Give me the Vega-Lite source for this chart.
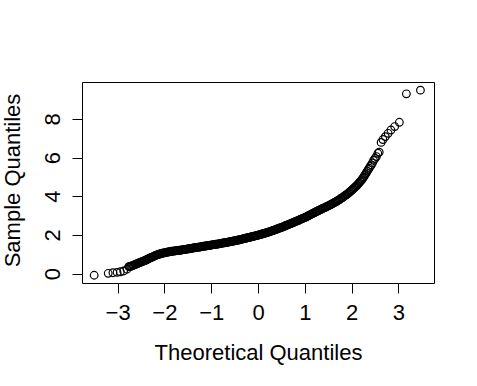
{
"$schema": "https://vega.github.io/schema/vega-lite/v6.json",
"width": 352, "height": 201,
"autosize": {"type": "none"},
"padding": {"left": 82, "top": 82, "right": 43, "bottom": 103},
"background": "white",
"config": {"view": {"stroke": "black", "strokeWidth": 1}, "font": "Liberation Sans"},
"data": {"values": [
{"theoretical": -3.50, "sample": -0.08},{"theoretical": -3.20, "sample": 0.02},{"theoretical": -3.10, "sample": 0.05},{"theoretical": -3.01, "sample": 0.07},{"theoretical": -2.94, "sample": 0.10},{"theoretical": -2.87, "sample": 0.14},{"theoretical": -2.80, "sample": 0.23},{"theoretical": -2.76, "sample": 0.36},{"theoretical": -2.74, "sample": 0.37},
{"theoretical": -2.72, "sample": 0.38},{"theoretical": -2.70, "sample": 0.40},{"theoretical": -2.68, "sample": 0.42},{"theoretical": -2.66, "sample": 0.44},{"theoretical": -2.64, "sample": 0.46},{"theoretical": -2.62, "sample": 0.48},{"theoretical": -2.60, "sample": 0.50},
{"theoretical": -2.58, "sample": 0.52},{"theoretical": -2.56, "sample": 0.54},{"theoretical": -2.54, "sample": 0.56},{"theoretical": -2.52, "sample": 0.58},{"theoretical": -2.50, "sample": 0.60},
{"theoretical": -2.48, "sample": 0.62},{"theoretical": -2.46, "sample": 0.64},{"theoretical": -2.44, "sample": 0.66},{"theoretical": -2.42, "sample": 0.68},{"theoretical": -2.40, "sample": 0.70},
{"theoretical": -2.38, "sample": 0.72},{"theoretical": -2.36, "sample": 0.75},{"theoretical": -2.34, "sample": 0.77},{"theoretical": -2.32, "sample": 0.80},{"theoretical": -2.30, "sample": 0.82},
{"theoretical": -2.28, "sample": 0.84},{"theoretical": -2.26, "sample": 0.86},{"theoretical": -2.24, "sample": 0.88},{"theoretical": -2.22, "sample": 0.91},{"theoretical": -2.20, "sample": 0.93},
{"theoretical": -2.18, "sample": 0.95},{"theoretical": -2.16, "sample": 0.97},{"theoretical": -2.14, "sample": 0.99},{"theoretical": -2.12, "sample": 1.00},{"theoretical": -2.10, "sample": 1.02},
{"theoretical": -2.08, "sample": 1.03},{"theoretical": -2.06, "sample": 1.05},{"theoretical": -2.04, "sample": 1.06},{"theoretical": -2.02, "sample": 1.07},{"theoretical": -2.00, "sample": 1.08},
{"theoretical": -1.98, "sample": 1.09},{"theoretical": -1.96, "sample": 1.10},{"theoretical": -1.94, "sample": 1.11},{"theoretical": -1.92, "sample": 1.12},{"theoretical": -1.90, "sample": 1.13},
{"theoretical": -1.88, "sample": 1.14},{"theoretical": -1.86, "sample": 1.15},{"theoretical": -1.84, "sample": 1.16},{"theoretical": -1.82, "sample": 1.16},{"theoretical": -1.80, "sample": 1.17},
{"theoretical": -1.78, "sample": 1.18},{"theoretical": -1.76, "sample": 1.18},{"theoretical": -1.74, "sample": 1.19},{"theoretical": -1.72, "sample": 1.20},{"theoretical": -1.70, "sample": 1.20},{"theoretical": -1.68, "sample": 1.21},{"theoretical": -1.66, "sample": 1.22},{"theoretical": -1.64, "sample": 1.22},{"theoretical": -1.62, "sample": 1.23},{"theoretical": -1.60, "sample": 1.24},
{"theoretical": -1.58, "sample": 1.25},{"theoretical": -1.56, "sample": 1.26},{"theoretical": -1.54, "sample": 1.26},{"theoretical": -1.52, "sample": 1.27},{"theoretical": -1.50, "sample": 1.28},{"theoretical": -1.48, "sample": 1.29},{"theoretical": -1.46, "sample": 1.29},{"theoretical": -1.44, "sample": 1.30},{"theoretical": -1.42, "sample": 1.31},{"theoretical": -1.40, "sample": 1.32},
{"theoretical": -1.38, "sample": 1.33},{"theoretical": -1.36, "sample": 1.34},{"theoretical": -1.34, "sample": 1.34},{"theoretical": -1.32, "sample": 1.35},{"theoretical": -1.30, "sample": 1.36},{"theoretical": -1.28, "sample": 1.37},{"theoretical": -1.26, "sample": 1.37},{"theoretical": -1.24, "sample": 1.38},{"theoretical": -1.22, "sample": 1.39},{"theoretical": -1.20, "sample": 1.40},
{"theoretical": -1.18, "sample": 1.41},{"theoretical": -1.16, "sample": 1.42},{"theoretical": -1.14, "sample": 1.42},{"theoretical": -1.12, "sample": 1.43},{"theoretical": -1.10, "sample": 1.44},{"theoretical": -1.08, "sample": 1.45},{"theoretical": -1.06, "sample": 1.45},{"theoretical": -1.04, "sample": 1.46},{"theoretical": -1.02, "sample": 1.47},{"theoretical": -1.00, "sample": 1.48},
{"theoretical": -0.98, "sample": 1.49},{"theoretical": -0.96, "sample": 1.50},{"theoretical": -0.94, "sample": 1.50},{"theoretical": -0.92, "sample": 1.51},{"theoretical": -0.90, "sample": 1.52},{"theoretical": -0.88, "sample": 1.53},{"theoretical": -0.86, "sample": 1.53},{"theoretical": -0.84, "sample": 1.54},{"theoretical": -0.82, "sample": 1.55},{"theoretical": -0.80, "sample": 1.56},
{"theoretical": -0.78, "sample": 1.57},{"theoretical": -0.76, "sample": 1.58},{"theoretical": -0.74, "sample": 1.59},{"theoretical": -0.72, "sample": 1.60},{"theoretical": -0.70, "sample": 1.60},{"theoretical": -0.68, "sample": 1.61},{"theoretical": -0.66, "sample": 1.62},{"theoretical": -0.64, "sample": 1.63},{"theoretical": -0.62, "sample": 1.64},{"theoretical": -0.60, "sample": 1.65},
{"theoretical": -0.58, "sample": 1.66},{"theoretical": -0.56, "sample": 1.67},{"theoretical": -0.54, "sample": 1.68},{"theoretical": -0.52, "sample": 1.69},{"theoretical": -0.50, "sample": 1.70},{"theoretical": -0.48, "sample": 1.71},{"theoretical": -0.46, "sample": 1.72},{"theoretical": -0.44, "sample": 1.73},{"theoretical": -0.42, "sample": 1.74},{"theoretical": -0.40, "sample": 1.75},
{"theoretical": -0.38, "sample": 1.76},{"theoretical": -0.36, "sample": 1.77},{"theoretical": -0.34, "sample": 1.79},{"theoretical": -0.32, "sample": 1.80},{"theoretical": -0.30, "sample": 1.81},{"theoretical": -0.28, "sample": 1.82},{"theoretical": -0.26, "sample": 1.83},{"theoretical": -0.24, "sample": 1.85},{"theoretical": -0.22, "sample": 1.86},{"theoretical": -0.20, "sample": 1.87},
{"theoretical": -0.18, "sample": 1.88},{"theoretical": -0.16, "sample": 1.89},{"theoretical": -0.14, "sample": 1.91},{"theoretical": -0.12, "sample": 1.92},{"theoretical": -0.10, "sample": 1.93},{"theoretical": -0.08, "sample": 1.94},{"theoretical": -0.06, "sample": 1.95},{"theoretical": -0.04, "sample": 1.97},{"theoretical": -0.02, "sample": 1.98},{"theoretical": 0.00, "sample": 1.99},
{"theoretical": 0.02, "sample": 2.00},{"theoretical": 0.04, "sample": 2.02},{"theoretical": 0.06, "sample": 2.03},{"theoretical": 0.08, "sample": 2.05},{"theoretical": 0.10, "sample": 2.06},{"theoretical": 0.12, "sample": 2.07},{"theoretical": 0.14, "sample": 2.09},{"theoretical": 0.16, "sample": 2.10},{"theoretical": 0.18, "sample": 2.12},{"theoretical": 0.20, "sample": 2.13},
{"theoretical": 0.22, "sample": 2.15},{"theoretical": 0.24, "sample": 2.16},{"theoretical": 0.26, "sample": 2.18},{"theoretical": 0.28, "sample": 2.20},{"theoretical": 0.30, "sample": 2.21},{"theoretical": 0.32, "sample": 2.23},{"theoretical": 0.34, "sample": 2.25},{"theoretical": 0.36, "sample": 2.26},{"theoretical": 0.38, "sample": 2.28},{"theoretical": 0.40, "sample": 2.30},
{"theoretical": 0.42, "sample": 2.32},{"theoretical": 0.44, "sample": 2.34},{"theoretical": 0.46, "sample": 2.36},{"theoretical": 0.48, "sample": 2.37},{"theoretical": 0.50, "sample": 2.39},{"theoretical": 0.52, "sample": 2.41},{"theoretical": 0.54, "sample": 2.43},{"theoretical": 0.56, "sample": 2.45},{"theoretical": 0.58, "sample": 2.47},{"theoretical": 0.60, "sample": 2.49},
{"theoretical": 0.62, "sample": 2.51},{"theoretical": 0.64, "sample": 2.53},{"theoretical": 0.66, "sample": 2.55},{"theoretical": 0.68, "sample": 2.57},{"theoretical": 0.70, "sample": 2.59},{"theoretical": 0.72, "sample": 2.61},{"theoretical": 0.74, "sample": 2.63},{"theoretical": 0.76, "sample": 2.65},{"theoretical": 0.78, "sample": 2.67},{"theoretical": 0.80, "sample": 2.69},
{"theoretical": 0.82, "sample": 2.71},{"theoretical": 0.84, "sample": 2.73},{"theoretical": 0.86, "sample": 2.75},{"theoretical": 0.88, "sample": 2.77},{"theoretical": 0.90, "sample": 2.80},{"theoretical": 0.92, "sample": 2.82},{"theoretical": 0.94, "sample": 2.84},{"theoretical": 0.96, "sample": 2.86},{"theoretical": 0.98, "sample": 2.88},{"theoretical": 1.00, "sample": 2.90},
{"theoretical": 1.02, "sample": 2.92},{"theoretical": 1.04, "sample": 2.95},{"theoretical": 1.06, "sample": 2.97},{"theoretical": 1.08, "sample": 3.00},{"theoretical": 1.10, "sample": 3.02},{"theoretical": 1.12, "sample": 3.05},{"theoretical": 1.14, "sample": 3.07},{"theoretical": 1.16, "sample": 3.10},{"theoretical": 1.18, "sample": 3.12},{"theoretical": 1.20, "sample": 3.15},
{"theoretical": 1.22, "sample": 3.17},{"theoretical": 1.24, "sample": 3.20},{"theoretical": 1.26, "sample": 3.22},{"theoretical": 1.28, "sample": 3.25},{"theoretical": 1.30, "sample": 3.27},
{"theoretical": 1.32, "sample": 3.29},{"theoretical": 1.34, "sample": 3.32},{"theoretical": 1.36, "sample": 3.34},{"theoretical": 1.38, "sample": 3.37},{"theoretical": 1.40, "sample": 3.39},
{"theoretical": 1.42, "sample": 3.41},{"theoretical": 1.44, "sample": 3.43},{"theoretical": 1.46, "sample": 3.46},{"theoretical": 1.48, "sample": 3.48},{"theoretical": 1.50, "sample": 3.50},
{"theoretical": 1.52, "sample": 3.53},{"theoretical": 1.54, "sample": 3.55},{"theoretical": 1.56, "sample": 3.58},{"theoretical": 1.58, "sample": 3.60},{"theoretical": 1.60, "sample": 3.63},
{"theoretical": 1.62, "sample": 3.66},{"theoretical": 1.64, "sample": 3.69},{"theoretical": 1.66, "sample": 3.71},{"theoretical": 1.68, "sample": 3.74},{"theoretical": 1.70, "sample": 3.77},
{"theoretical": 1.72, "sample": 3.80},{"theoretical": 1.74, "sample": 3.83},{"theoretical": 1.76, "sample": 3.87},{"theoretical": 1.78, "sample": 3.90},{"theoretical": 1.80, "sample": 3.93},
{"theoretical": 1.82, "sample": 3.96},{"theoretical": 1.84, "sample": 4.00},{"theoretical": 1.86, "sample": 4.03},{"theoretical": 1.88, "sample": 4.07},{"theoretical": 1.90, "sample": 4.10},
{"theoretical": 1.92, "sample": 4.14},{"theoretical": 1.94, "sample": 4.18},{"theoretical": 1.96, "sample": 4.22},{"theoretical": 1.98, "sample": 4.26},{"theoretical": 2.00, "sample": 4.30},
{"theoretical": 2.02, "sample": 4.35},{"theoretical": 2.04, "sample": 4.39},{"theoretical": 2.06, "sample": 4.44},{"theoretical": 2.08, "sample": 4.48},{"theoretical": 2.10, "sample": 4.53},
{"theoretical": 2.12, "sample": 4.58},{"theoretical": 2.14, "sample": 4.64},{"theoretical": 2.16, "sample": 4.69},{"theoretical": 2.18, "sample": 4.75},{"theoretical": 2.20, "sample": 4.80},
{"theoretical": 2.22, "sample": 4.86},{"theoretical": 2.24, "sample": 4.93},{"theoretical": 2.26, "sample": 5.00},{"theoretical": 2.28, "sample": 5.08},
{"theoretical": 2.298, "sample": 5.15},{"theoretical": 2.316, "sample": 5.22},{"theoretical": 2.335, "sample": 5.30},{"theoretical": 2.355, "sample": 5.38},{"theoretical": 2.375, "sample": 5.45},{"theoretical": 2.40, "sample": 5.55},{"theoretical": 2.42, "sample": 5.62},{"theoretical": 2.445, "sample": 5.72},{"theoretical": 2.47, "sample": 5.85},{"theoretical": 2.50, "sample": 5.95},{"theoretical": 2.53, "sample": 6.05},{"theoretical": 2.56, "sample": 6.22},{"theoretical": 2.59, "sample": 6.28},{"theoretical": 2.63, "sample": 6.78},{"theoretical": 2.67, "sample": 6.93},{"theoretical": 2.72, "sample": 7.08},{"theoretical": 2.78, "sample": 7.25},{"theoretical": 2.84, "sample": 7.42},{"theoretical": 2.92, "sample": 7.60},{"theoretical": 3.02, "sample": 7.82},{"theoretical": 3.17, "sample": 9.29},{"theoretical": 3.47, "sample": 9.48}
]},
"mark": {"type": "point", "shape": "circle", "filled": false, "stroke": "black", "strokeWidth": 1.2, "size": 58, "opacity": 1},
"encoding": {
"x": {"field": "theoretical", "type": "quantitative",
 "scale": {"domain": [-3.76, 3.76], "nice": false, "zero": false},
 "axis": {"values": [-3,-2,-1,0,1,2,3], "domain": false, "grid": false, "tickSize": 10, "tickColor": "black", "tickWidth": 1,
  "labelFont": "Liberation Sans", "labelFontSize": 22, "labelColor": "black", "labelPadding": 26, "labelBaseline": "alphabetic", "labelAlign": "center", "labelFlush": false, "labelOverlap": false,
  "title": "Theoretical Quantiles", "titleFont": "Liberation Sans", "titleFontSize": 22, "titleFontWeight": "normal", "titleColor": "black",
  "titleX": 176, "titleY": 76, "titleBaseline": "alphabetic", "titleAlign": "center"}},
"y": {"field": "sample", "type": "quantitative",
 "scale": {"domain": [-0.48, 9.9], "nice": false, "zero": false},
 "axis": {"values": [0,2,4,6,8], "domain": false, "grid": false, "tickSize": 10, "tickColor": "black", "tickWidth": 1,
  "labelFont": "Liberation Sans", "labelFontSize": 22, "labelColor": "black", "labelPadding": 13, "labelAngle": 270, "labelBaseline": "alphabetic", "labelAlign": "center", "labelFlush": false, "labelOverlap": false,
  "title": "Sample Quantiles", "titleFont": "Liberation Sans", "titleFontSize": 22, "titleFontWeight": "normal", "titleColor": "black",
  "titleAngle": 270, "titleX": -63, "titleY": 98, "titleBaseline": "alphabetic", "titleAlign": "center"}}
}
}
